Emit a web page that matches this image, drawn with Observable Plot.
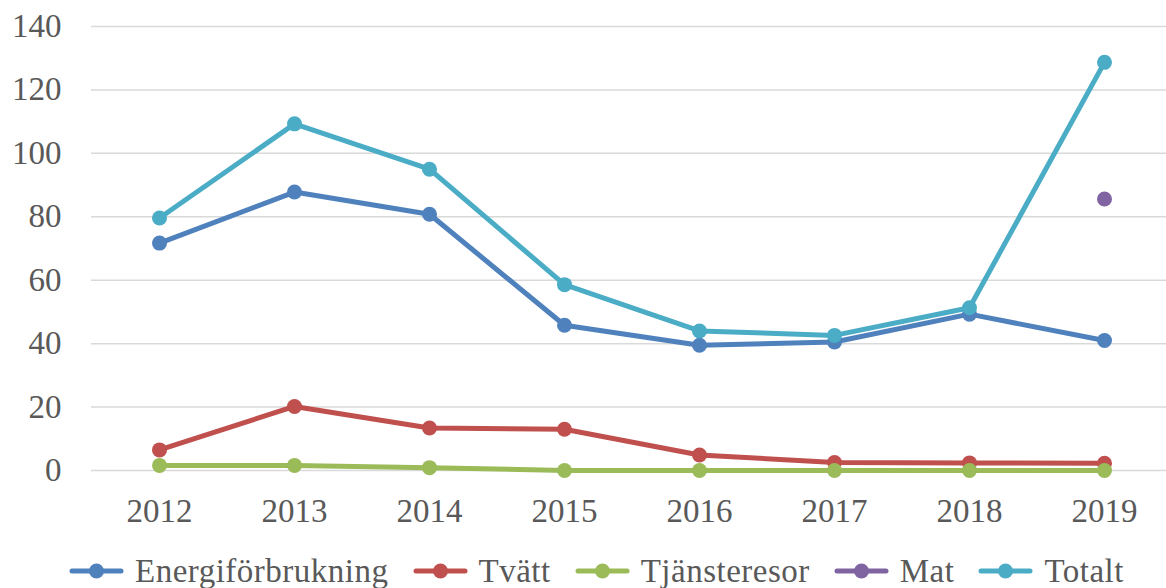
<!DOCTYPE html>
<html><head><meta charset="utf-8">
<script src="https://cdn.jsdelivr.net/npm/d3@7"></script>
<script src="https://cdn.jsdelivr.net/npm/@observablehq/plot@0.6"></script>
<style>
body{margin:0;background:#fff;font-family:"Liberation Serif",serif;overflow:hidden}
#legend{display:flex;align-items:center;height:44px;margin-top:9px;padding-left:69px;font-size:33px;letter-spacing:0.5px;color:#595959;}
.item{display:flex;align-items:center;margin-right:24px;white-space:nowrap}
.item svg{margin-right:11px}
</style></head><body><div id="chart"></div><div id="legend"></div>
<script>
const years = ["2012","2013","2014","2015","2016","2017","2018","2019"];
const seriesNames = ["Energiförbrukning","Tvätt","Tjänsteresor","Mat","Totalt"];
const seriesColors = ["#4F81BD","#C0504D","#9BBB59","#8064A2","#4BACC6"];
const energi  = [71.7, 87.8, 80.8, 45.8, 39.5, 40.5, 49.3, 41.0];
const tvatt   = [6.5, 20.2, 13.4, 13.0, 4.9, 2.5, 2.4, 2.3];
const tjanst  = [1.6, 1.6, 0.9, 0, 0, 0, 0, 0];
const mat     = [null, null, null, null, null, null, null, 85.6];
const totalt  = [79.6, 109.3, 95.0, 58.6, 44.0, 42.6, 51.3, 128.7];
const yTicks  = [0, 20, 40, 60, 80, 100, 120, 140];

const seriesValues = [energi, tvatt, tjanst, mat, totalt];
const rows = [];
seriesNames.forEach((n, k) => years.forEach((y, i) => {
  const v = seriesValues[k][i];
  if (v != null) rows.push({year: y, value: v, series: n});
}));

const marks = [Plot.ruleY(yTicks, {stroke: "#d9d9d9", strokeWidth: 1.5})];
seriesNames.forEach(n => {
  const d = rows.filter(r => r.series === n);
  marks.push(Plot.line(d, {x: "year", y: "value", stroke: "series", strokeWidth: 5, strokeLinejoin: "round", strokeLinecap: "round"}));
  marks.push(Plot.dot(d, {x: "year", y: "value", fill: "series", r: 7.5}));
});
marks.push(Plot.axisX({tickSize: 0, tickPadding: 28, fontSize: 33, label: null}));
marks.push(Plot.axisY(yTicks, {tickSize: 0, tickPadding: 30, fontSize: 33, label: null}));

const chart = Plot.plot({
  width: 1166, height: 540,
  marginLeft: 91, marginRight: 0, marginTop: 26, marginBottom: 70,
  style: {fontFamily: "Liberation Serif", fontSize: "33px", color: "#595959", background: "#fff", overflow: "visible"},
  x: {type: "point", domain: years, padding: 0.5, range: [90.5, 1171.5]},
  y: {domain: [0, 140]},
  color: {domain: seriesNames, range: seriesColors},
  marks
});
document.getElementById("chart").appendChild(chart);

const legend = document.getElementById("legend");
seriesNames.forEach((n, k) => {
  const item = document.createElement("div");
  item.className = "item";
  const c = seriesColors[k];
  item.innerHTML = `<svg width="55" height="20"><line x1="3" y1="10" x2="52" y2="10" stroke="${c}" stroke-width="5" stroke-linecap="round"/><circle cx="27.5" cy="10" r="7.5" fill="${c}"/></svg><span>${n}</span>`;
  legend.appendChild(item);
});
</script></body></html>
